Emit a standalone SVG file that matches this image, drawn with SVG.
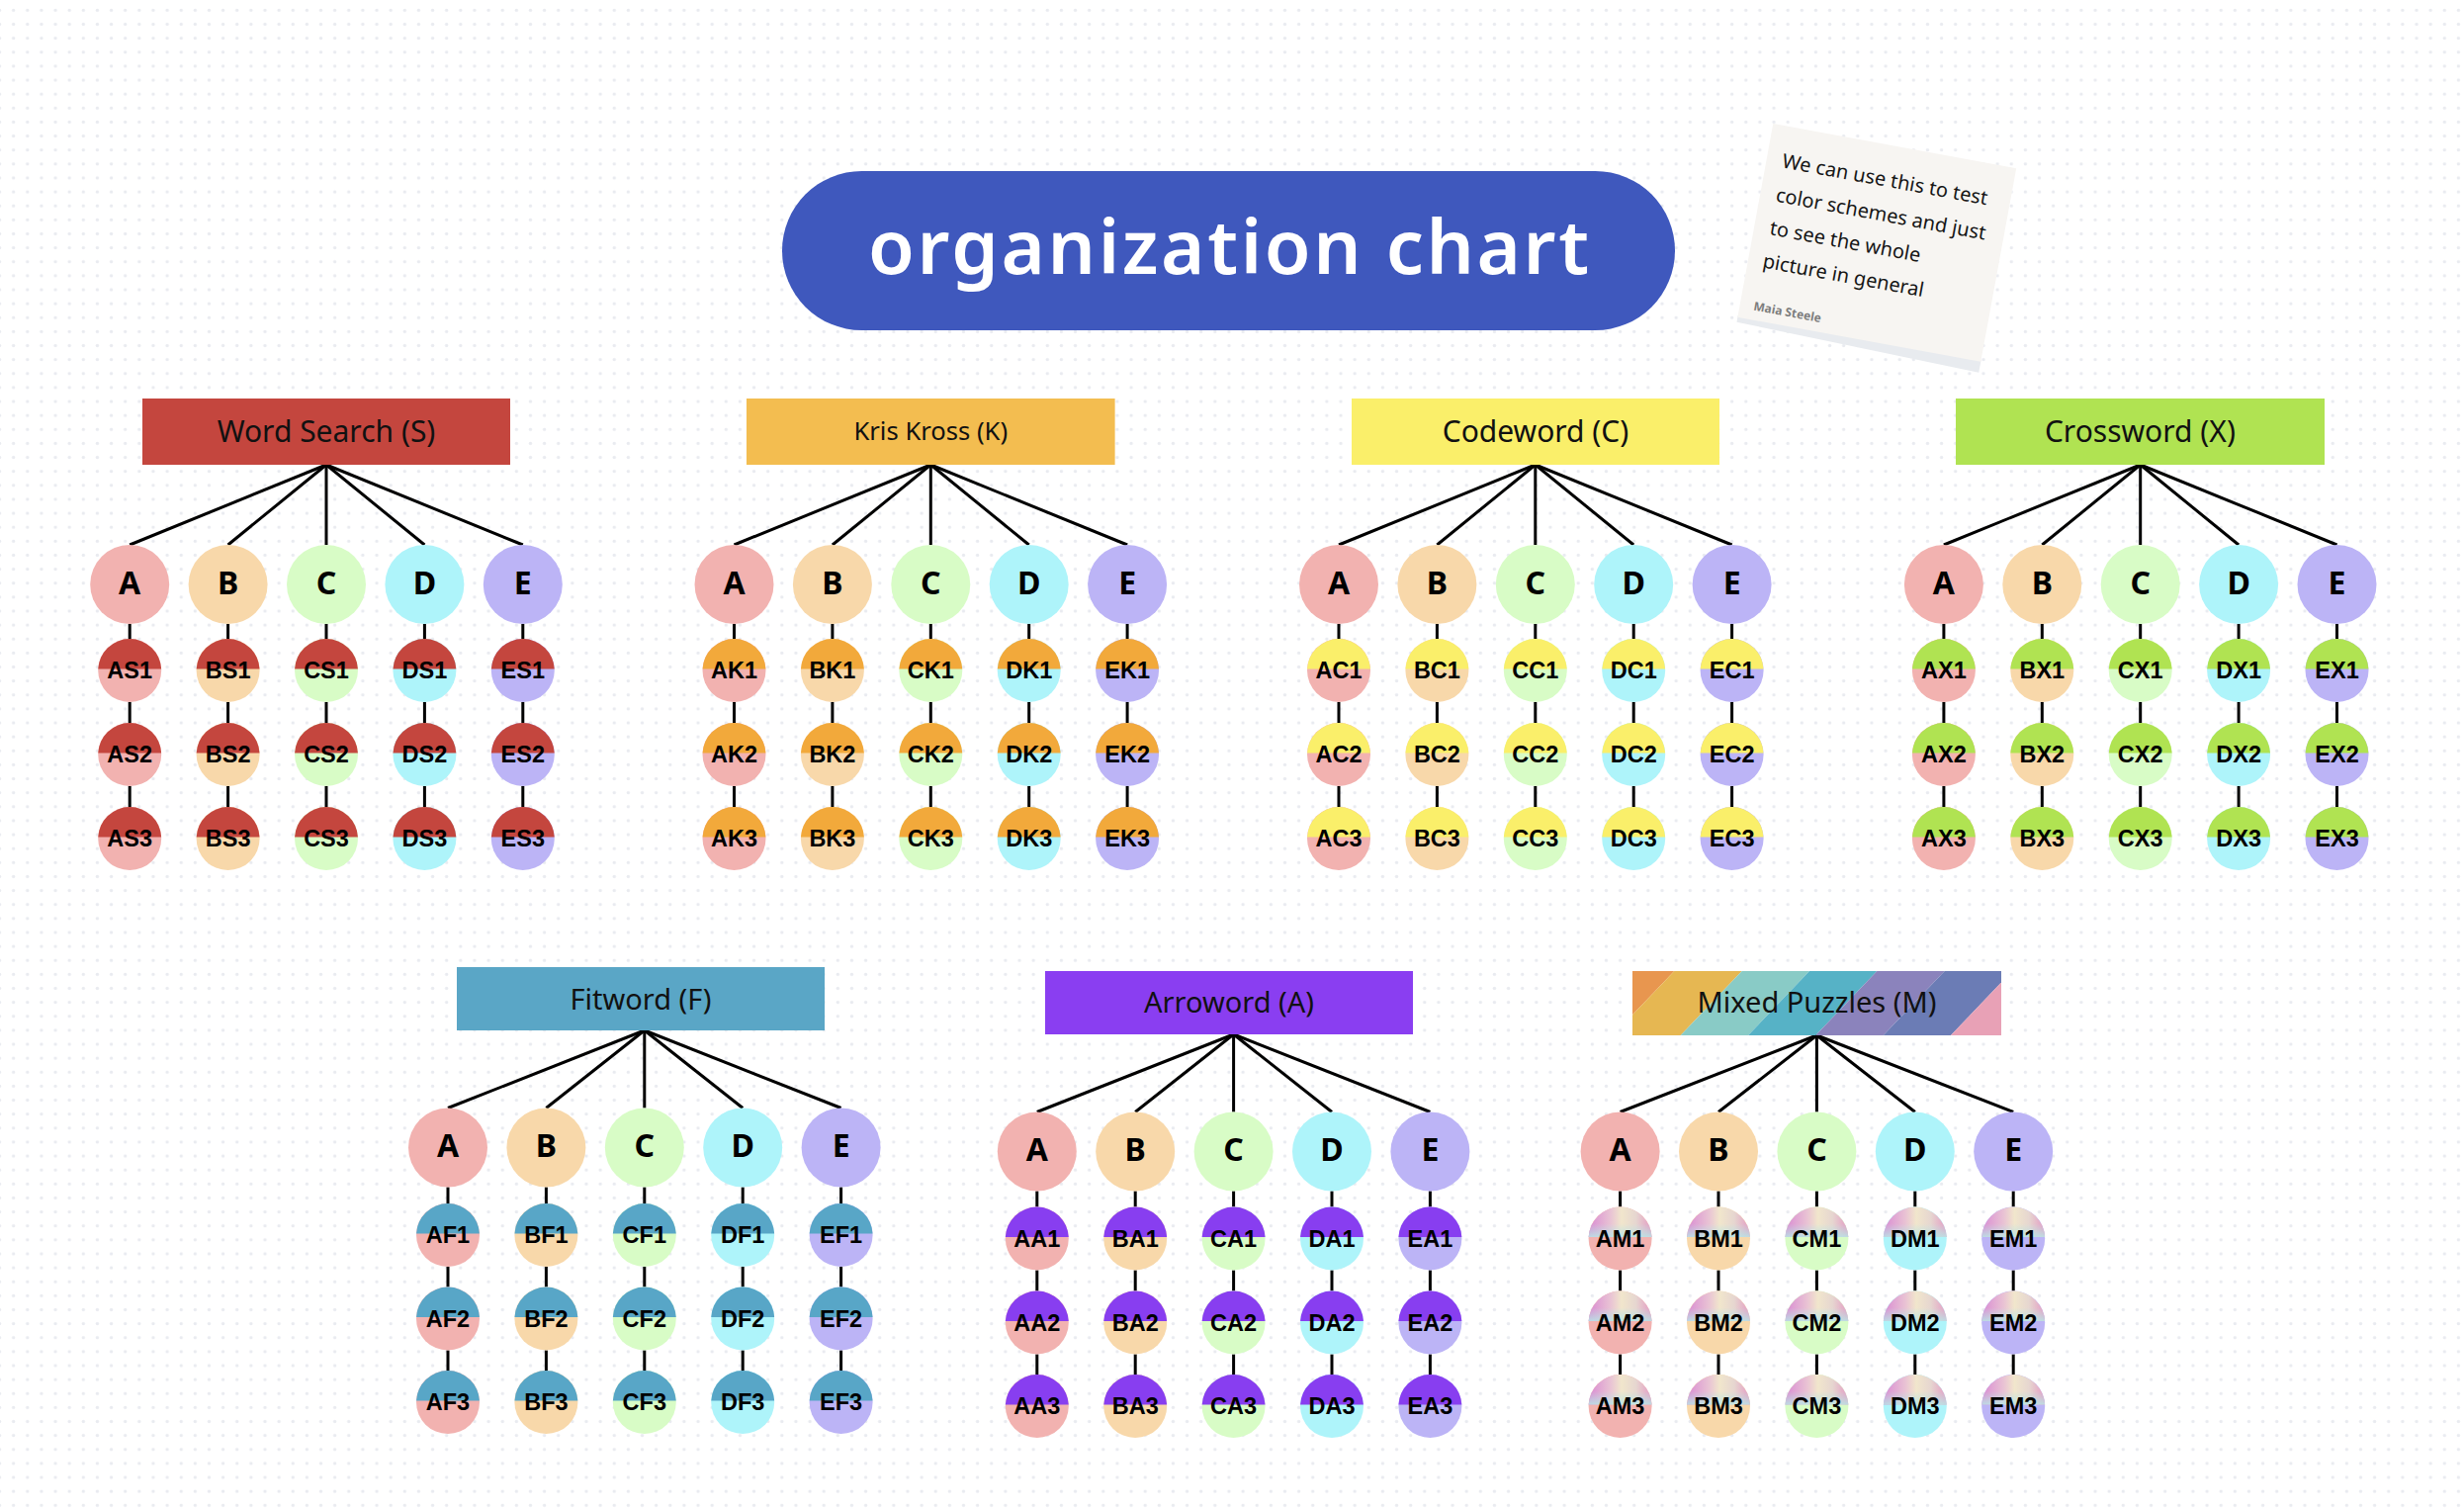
<svg xmlns="http://www.w3.org/2000/svg" xmlns:xlink="http://www.w3.org/1999/xlink" width="2492" height="1526" viewBox="0 0 2492 1526">
<defs>
<pattern id="dots" x="6.6" y="3.33" width="14.13" height="14.13" patternUnits="userSpaceOnUse"><circle cx="7.065" cy="7.065" r="1.7" fill="#e9ebf0"/></pattern>
<path id="top" d="M-31.96,-1.5 A32,32 0 0 1 31.96,-1.5 Z"/>
<linearGradient id="mixH" x1="0" y1="0" x2="1" y2="0"><stop offset="0" stop-color="#d98bd3"/><stop offset="0.35" stop-color="#e9c3d4"/><stop offset="0.52" stop-color="#f1e6cc"/><stop offset="0.75" stop-color="#e6d6d0"/><stop offset="1" stop-color="#e49ac4"/></linearGradient>
<linearGradient id="mixV" x1="0" y1="0" x2="0" y2="1"><stop offset="0" stop-color="#b8e6e6" stop-opacity="0"/><stop offset="0.55" stop-color="#b8e6e6" stop-opacity="0"/><stop offset="1" stop-color="#b8e6e6" stop-opacity="0.85"/></linearGradient>
<clipPath id="mixClip"><rect x="1651" y="982" width="373" height="65"/></clipPath>
<style>
.bx text{font-family:"Noto Sans","Liberation Sans",sans-serif;font-size:30px;fill:#111;text-anchor:middle}
.big text{font-family:"Noto Sans","DejaVu Sans",sans-serif;font-weight:700;font-size:32px;fill:#000;text-anchor:middle}
.sm text{font-family:"Liberation Sans","Arial",sans-serif;font-weight:700;font-size:23.5px;fill:#000;text-anchor:middle}
.ln{stroke:#000;stroke-width:3;fill:none;stroke-linecap:butt}
.cA{fill:#f2b2b0}.cB{fill:#f8d8aa}.cC{fill:#d8fcc6}.cD{fill:#aef4fa}.cE{fill:#bcb4f6}
.tS{fill:#c4463e}.tK{fill:#f2a93b}.tC{fill:#faef6a}.tX{fill:#b0e352}.tF{fill:#58a6c7}.tA{fill:#883ef0}.tM{fill:url(#mixH)}.tM2{fill:url(#mixV)}
.note text{font-family:"Noto Sans","Open Sans",sans-serif;font-size:20px;fill:#161616}
.note .sig{font-size:12px;font-weight:700;fill:#7d7d7d}
</style>
</defs>
<rect width="2492" height="1526" fill="#ffffff"/>
<rect width="2492" height="1526" fill="url(#dots)"/>

<g id="title">
<rect x="791" y="173" width="903" height="161" rx="80.5" fill="#3f58bd"/>
<text x="878" y="277" font-family="'Noto Sans','Open Sans',sans-serif" font-weight="600" font-size="76" fill="#ffffff" textLength="729" lengthAdjust="spacing">organization chart</text>
</g>

<g id="note" class="note" transform="translate(1793.3,125) rotate(10.4)">
<polygon points="0,197 250,197 250,210 0,204" fill="#e8ebef"/>
<rect width="250" height="199" fill="#f7f5f2"/>
<text x="16" y="42">We can use this to test</text>
<text x="16" y="77">color schemes and just</text>
<text x="16" y="111">to see the whole</text>
<text x="15" y="145">picture in general</text>
<text class="sig" x="14" y="189">Maia Steele</text>
</g>

<g id="connectors">
<g id="conn-S">
<line class="ln" x1="330" y1="470" x2="131.2" y2="551"/><line class="ln" x1="330" y1="470" x2="230.6" y2="551"/><line class="ln" x1="330" y1="470" x2="330" y2="551"/><line class="ln" x1="330" y1="470" x2="429.4" y2="551"/><line class="ln" x1="330" y1="470" x2="528.8" y2="551"/>
<line class="ln" x1="131.2" y1="631" x2="131.2" y2="646"/><line class="ln" x1="131.2" y1="710" x2="131.2" y2="731"/><line class="ln" x1="131.2" y1="795" x2="131.2" y2="816"/>
<line class="ln" x1="230.6" y1="631" x2="230.6" y2="646"/><line class="ln" x1="230.6" y1="710" x2="230.6" y2="731"/><line class="ln" x1="230.6" y1="795" x2="230.6" y2="816"/>
<line class="ln" x1="330" y1="631" x2="330" y2="646"/><line class="ln" x1="330" y1="710" x2="330" y2="731"/><line class="ln" x1="330" y1="795" x2="330" y2="816"/>
<line class="ln" x1="429.4" y1="631" x2="429.4" y2="646"/><line class="ln" x1="429.4" y1="710" x2="429.4" y2="731"/><line class="ln" x1="429.4" y1="795" x2="429.4" y2="816"/>
<line class="ln" x1="528.8" y1="631" x2="528.8" y2="646"/><line class="ln" x1="528.8" y1="710" x2="528.8" y2="731"/><line class="ln" x1="528.8" y1="795" x2="528.8" y2="816"/>
</g>
<g id="conn-K">
<line class="ln" x1="941.3" y1="470" x2="742.5" y2="551"/><line class="ln" x1="941.3" y1="470" x2="841.9" y2="551"/><line class="ln" x1="941.3" y1="470" x2="941.3" y2="551"/><line class="ln" x1="941.3" y1="470" x2="1040.7" y2="551"/><line class="ln" x1="941.3" y1="470" x2="1140.1" y2="551"/>
<line class="ln" x1="742.5" y1="631" x2="742.5" y2="646"/><line class="ln" x1="742.5" y1="710" x2="742.5" y2="731"/><line class="ln" x1="742.5" y1="795" x2="742.5" y2="816"/>
<line class="ln" x1="841.9" y1="631" x2="841.9" y2="646"/><line class="ln" x1="841.9" y1="710" x2="841.9" y2="731"/><line class="ln" x1="841.9" y1="795" x2="841.9" y2="816"/>
<line class="ln" x1="941.3" y1="631" x2="941.3" y2="646"/><line class="ln" x1="941.3" y1="710" x2="941.3" y2="731"/><line class="ln" x1="941.3" y1="795" x2="941.3" y2="816"/>
<line class="ln" x1="1040.7" y1="631" x2="1040.7" y2="646"/><line class="ln" x1="1040.7" y1="710" x2="1040.7" y2="731"/><line class="ln" x1="1040.7" y1="795" x2="1040.7" y2="816"/>
<line class="ln" x1="1140.1" y1="631" x2="1140.1" y2="646"/><line class="ln" x1="1140.1" y1="710" x2="1140.1" y2="731"/><line class="ln" x1="1140.1" y1="795" x2="1140.1" y2="816"/>
</g>
<g id="conn-C">
<line class="ln" x1="1552.8" y1="470" x2="1354" y2="551"/><line class="ln" x1="1552.8" y1="470" x2="1453.4" y2="551"/><line class="ln" x1="1552.8" y1="470" x2="1552.8" y2="551"/><line class="ln" x1="1552.8" y1="470" x2="1652.2" y2="551"/><line class="ln" x1="1552.8" y1="470" x2="1751.6" y2="551"/>
<line class="ln" x1="1354" y1="631" x2="1354" y2="646"/><line class="ln" x1="1354" y1="710" x2="1354" y2="731"/><line class="ln" x1="1354" y1="795" x2="1354" y2="816"/>
<line class="ln" x1="1453.4" y1="631" x2="1453.4" y2="646"/><line class="ln" x1="1453.4" y1="710" x2="1453.4" y2="731"/><line class="ln" x1="1453.4" y1="795" x2="1453.4" y2="816"/>
<line class="ln" x1="1552.8" y1="631" x2="1552.8" y2="646"/><line class="ln" x1="1552.8" y1="710" x2="1552.8" y2="731"/><line class="ln" x1="1552.8" y1="795" x2="1552.8" y2="816"/>
<line class="ln" x1="1652.2" y1="631" x2="1652.2" y2="646"/><line class="ln" x1="1652.2" y1="710" x2="1652.2" y2="731"/><line class="ln" x1="1652.2" y1="795" x2="1652.2" y2="816"/>
<line class="ln" x1="1751.6" y1="631" x2="1751.6" y2="646"/><line class="ln" x1="1751.6" y1="710" x2="1751.6" y2="731"/><line class="ln" x1="1751.6" y1="795" x2="1751.6" y2="816"/>
</g>
<g id="conn-X">
<line class="ln" x1="2164.7" y1="470" x2="1965.9" y2="551"/><line class="ln" x1="2164.7" y1="470" x2="2065.3" y2="551"/><line class="ln" x1="2164.7" y1="470" x2="2164.7" y2="551"/><line class="ln" x1="2164.7" y1="470" x2="2264.1" y2="551"/><line class="ln" x1="2164.7" y1="470" x2="2363.5" y2="551"/>
<line class="ln" x1="1965.9" y1="631" x2="1965.9" y2="646"/><line class="ln" x1="1965.9" y1="710" x2="1965.9" y2="731"/><line class="ln" x1="1965.9" y1="795" x2="1965.9" y2="816"/>
<line class="ln" x1="2065.3" y1="631" x2="2065.3" y2="646"/><line class="ln" x1="2065.3" y1="710" x2="2065.3" y2="731"/><line class="ln" x1="2065.3" y1="795" x2="2065.3" y2="816"/>
<line class="ln" x1="2164.7" y1="631" x2="2164.7" y2="646"/><line class="ln" x1="2164.7" y1="710" x2="2164.7" y2="731"/><line class="ln" x1="2164.7" y1="795" x2="2164.7" y2="816"/>
<line class="ln" x1="2264.1" y1="631" x2="2264.1" y2="646"/><line class="ln" x1="2264.1" y1="710" x2="2264.1" y2="731"/><line class="ln" x1="2264.1" y1="795" x2="2264.1" y2="816"/>
<line class="ln" x1="2363.5" y1="631" x2="2363.5" y2="646"/><line class="ln" x1="2363.5" y1="710" x2="2363.5" y2="731"/><line class="ln" x1="2363.5" y1="795" x2="2363.5" y2="816"/>
</g>
<g id="conn-F">
<line class="ln" x1="651.8" y1="1042" x2="453" y2="1120.5"/><line class="ln" x1="651.8" y1="1042" x2="552.4" y2="1120.5"/><line class="ln" x1="651.8" y1="1042" x2="651.8" y2="1120.5"/><line class="ln" x1="651.8" y1="1042" x2="751.2" y2="1120.5"/><line class="ln" x1="651.8" y1="1042" x2="850.6" y2="1120.5"/>
<line class="ln" x1="453" y1="1200.5" x2="453" y2="1217"/><line class="ln" x1="453" y1="1281" x2="453" y2="1301.5"/><line class="ln" x1="453" y1="1365.5" x2="453" y2="1386"/>
<line class="ln" x1="552.4" y1="1200.5" x2="552.4" y2="1217"/><line class="ln" x1="552.4" y1="1281" x2="552.4" y2="1301.5"/><line class="ln" x1="552.4" y1="1365.5" x2="552.4" y2="1386"/>
<line class="ln" x1="651.8" y1="1200.5" x2="651.8" y2="1217"/><line class="ln" x1="651.8" y1="1281" x2="651.8" y2="1301.5"/><line class="ln" x1="651.8" y1="1365.5" x2="651.8" y2="1386"/>
<line class="ln" x1="751.2" y1="1200.5" x2="751.2" y2="1217"/><line class="ln" x1="751.2" y1="1281" x2="751.2" y2="1301.5"/><line class="ln" x1="751.2" y1="1365.5" x2="751.2" y2="1386"/>
<line class="ln" x1="850.6" y1="1200.5" x2="850.6" y2="1217"/><line class="ln" x1="850.6" y1="1281" x2="850.6" y2="1301.5"/><line class="ln" x1="850.6" y1="1365.5" x2="850.6" y2="1386"/>
</g>
<g id="conn-A">
<line class="ln" x1="1247.6" y1="1046" x2="1048.8" y2="1124.5"/><line class="ln" x1="1247.6" y1="1046" x2="1148.2" y2="1124.5"/><line class="ln" x1="1247.6" y1="1046" x2="1247.6" y2="1124.5"/><line class="ln" x1="1247.6" y1="1046" x2="1347" y2="1124.5"/><line class="ln" x1="1247.6" y1="1046" x2="1446.4" y2="1124.5"/>
<line class="ln" x1="1048.8" y1="1204.5" x2="1048.8" y2="1220.5"/><line class="ln" x1="1048.8" y1="1284.5" x2="1048.8" y2="1305.5"/><line class="ln" x1="1048.8" y1="1369.5" x2="1048.8" y2="1390"/>
<line class="ln" x1="1148.2" y1="1204.5" x2="1148.2" y2="1220.5"/><line class="ln" x1="1148.2" y1="1284.5" x2="1148.2" y2="1305.5"/><line class="ln" x1="1148.2" y1="1369.5" x2="1148.2" y2="1390"/>
<line class="ln" x1="1247.6" y1="1204.5" x2="1247.6" y2="1220.5"/><line class="ln" x1="1247.6" y1="1284.5" x2="1247.6" y2="1305.5"/><line class="ln" x1="1247.6" y1="1369.5" x2="1247.6" y2="1390"/>
<line class="ln" x1="1347" y1="1204.5" x2="1347" y2="1220.5"/><line class="ln" x1="1347" y1="1284.5" x2="1347" y2="1305.5"/><line class="ln" x1="1347" y1="1369.5" x2="1347" y2="1390"/>
<line class="ln" x1="1446.4" y1="1204.5" x2="1446.4" y2="1220.5"/><line class="ln" x1="1446.4" y1="1284.5" x2="1446.4" y2="1305.5"/><line class="ln" x1="1446.4" y1="1369.5" x2="1446.4" y2="1390"/>
</g>
<g id="conn-M">
<line class="ln" x1="1837.4" y1="1047" x2="1638.6" y2="1124.5"/><line class="ln" x1="1837.4" y1="1047" x2="1738" y2="1124.5"/><line class="ln" x1="1837.4" y1="1047" x2="1837.4" y2="1124.5"/><line class="ln" x1="1837.4" y1="1047" x2="1936.8" y2="1124.5"/><line class="ln" x1="1837.4" y1="1047" x2="2036.2" y2="1124.5"/>
<line class="ln" x1="1638.6" y1="1204.5" x2="1638.6" y2="1220.5"/><line class="ln" x1="1638.6" y1="1284.5" x2="1638.6" y2="1305.5"/><line class="ln" x1="1638.6" y1="1369.5" x2="1638.6" y2="1390"/>
<line class="ln" x1="1738" y1="1204.5" x2="1738" y2="1220.5"/><line class="ln" x1="1738" y1="1284.5" x2="1738" y2="1305.5"/><line class="ln" x1="1738" y1="1369.5" x2="1738" y2="1390"/>
<line class="ln" x1="1837.4" y1="1204.5" x2="1837.4" y2="1220.5"/><line class="ln" x1="1837.4" y1="1284.5" x2="1837.4" y2="1305.5"/><line class="ln" x1="1837.4" y1="1369.5" x2="1837.4" y2="1390"/>
<line class="ln" x1="1936.8" y1="1204.5" x2="1936.8" y2="1220.5"/><line class="ln" x1="1936.8" y1="1284.5" x2="1936.8" y2="1305.5"/><line class="ln" x1="1936.8" y1="1369.5" x2="1936.8" y2="1390"/>
<line class="ln" x1="2036.2" y1="1204.5" x2="2036.2" y2="1220.5"/><line class="ln" x1="2036.2" y1="1284.5" x2="2036.2" y2="1305.5"/><line class="ln" x1="2036.2" y1="1369.5" x2="2036.2" y2="1390"/>
</g>
</g>

<g id="boxes">
<g id="box-S" class="bx"><rect x="144" y="403" width="372" height="67" fill="#c4463e"/><text x="330" y="446.5">Word Search (S)</text></g>
<g id="box-K" class="bx"><rect x="755" y="403" width="372.6" height="67" fill="#f3bd50"/><text x="941.3" y="445" style="font-size:25.6px">Kris Kross (K)</text></g>
<g id="box-C" class="bx"><rect x="1367" y="403" width="372" height="67" fill="#faef6a"/><text x="1553" y="446.5">Codeword (C)</text></g>
<g id="box-X" class="bx"><rect x="1978" y="403" width="373" height="67" fill="#b0e352"/><text x="2164.4" y="446.5">Crossword (X)</text></g>
<g id="box-F" class="bx"><rect x="462" y="978" width="372" height="64" fill="#5aa6c6"/><text x="648" y="1020.5" style="font-size:29px">Fitword (F)</text></g>
<g id="box-A" class="bx"><rect x="1057" y="982" width="372" height="64" fill="#8a3ef1"/><text x="1243" y="1024" style="font-size:29px">Arroword (A)</text></g>
<g id="box-M" class="bx">
<g clip-path="url(#mixClip)">
<polygon points="1600,982 1693.3,982 1631.3,1047 1538,1047" fill="#e8964f"/>
<polygon points="1693.3,982 1761.7,982 1699.7,1047 1631.3,1047" fill="#e6b752"/>
<polygon points="1761.7,982 1830,982 1768,1047 1699.7,1047" fill="#89cbc6"/>
<polygon points="1830,982 1898.3,982 1836.3,1047 1768,1047" fill="#56b2c6"/>
<polygon points="1898.3,982 1966.7,982 1904.7,1047 1836.3,1047" fill="#8b83bc"/>
<polygon points="1966.7,982 2035,982 1973,1047 1904.7,1047" fill="#6b7cb5"/>
<polygon points="2035,982 2150,982 2088,1047 1973,1047" fill="#e8a1b6"/>
</g>
<text x="1837.5" y="1024" style="font-size:29px">Mixed Puzzles (M)</text>
</g>
</g>

<g id="tree-S">
<g id="S-A" class="big" transform="translate(131.2,591)"><circle r="40" class="cA"/><text y="9.5">A</text></g>
<g id="S-B" class="big" transform="translate(230.6,591)"><circle r="40" class="cB"/><text y="9.5">B</text></g>
<g id="S-C" class="big" transform="translate(330,591)"><circle r="40" class="cC"/><text y="9.5">C</text></g>
<g id="S-D" class="big" transform="translate(429.4,591)"><circle r="40" class="cD"/><text y="9.5">D</text></g>
<g id="S-E" class="big" transform="translate(528.8,591)"><circle r="40" class="cE"/><text y="9.5">E</text></g>
<g id="AS1" class="sm" transform="translate(131.2,678)"><circle r="32" class="cA"/><use href="#top" class="tS"/><text y="8">AS1</text></g>
<g id="AS2" class="sm" transform="translate(131.2,763)"><circle r="32" class="cA"/><use href="#top" class="tS"/><text y="8">AS2</text></g>
<g id="AS3" class="sm" transform="translate(131.2,848)"><circle r="32" class="cA"/><use href="#top" class="tS"/><text y="8">AS3</text></g>
<g id="BS1" class="sm" transform="translate(230.6,678)"><circle r="32" class="cB"/><use href="#top" class="tS"/><text y="8">BS1</text></g>
<g id="BS2" class="sm" transform="translate(230.6,763)"><circle r="32" class="cB"/><use href="#top" class="tS"/><text y="8">BS2</text></g>
<g id="BS3" class="sm" transform="translate(230.6,848)"><circle r="32" class="cB"/><use href="#top" class="tS"/><text y="8">BS3</text></g>
<g id="CS1" class="sm" transform="translate(330,678)"><circle r="32" class="cC"/><use href="#top" class="tS"/><text y="8">CS1</text></g>
<g id="CS2" class="sm" transform="translate(330,763)"><circle r="32" class="cC"/><use href="#top" class="tS"/><text y="8">CS2</text></g>
<g id="CS3" class="sm" transform="translate(330,848)"><circle r="32" class="cC"/><use href="#top" class="tS"/><text y="8">CS3</text></g>
<g id="DS1" class="sm" transform="translate(429.4,678)"><circle r="32" class="cD"/><use href="#top" class="tS"/><text y="8">DS1</text></g>
<g id="DS2" class="sm" transform="translate(429.4,763)"><circle r="32" class="cD"/><use href="#top" class="tS"/><text y="8">DS2</text></g>
<g id="DS3" class="sm" transform="translate(429.4,848)"><circle r="32" class="cD"/><use href="#top" class="tS"/><text y="8">DS3</text></g>
<g id="ES1" class="sm" transform="translate(528.8,678)"><circle r="32" class="cE"/><use href="#top" class="tS"/><text y="8">ES1</text></g>
<g id="ES2" class="sm" transform="translate(528.8,763)"><circle r="32" class="cE"/><use href="#top" class="tS"/><text y="8">ES2</text></g>
<g id="ES3" class="sm" transform="translate(528.8,848)"><circle r="32" class="cE"/><use href="#top" class="tS"/><text y="8">ES3</text></g>
</g>

<g id="tree-K">
<g id="K-A" class="big" transform="translate(742.5,591)"><circle r="40" class="cA"/><text y="9.5">A</text></g>
<g id="K-B" class="big" transform="translate(841.9,591)"><circle r="40" class="cB"/><text y="9.5">B</text></g>
<g id="K-C" class="big" transform="translate(941.3,591)"><circle r="40" class="cC"/><text y="9.5">C</text></g>
<g id="K-D" class="big" transform="translate(1040.7,591)"><circle r="40" class="cD"/><text y="9.5">D</text></g>
<g id="K-E" class="big" transform="translate(1140.1,591)"><circle r="40" class="cE"/><text y="9.5">E</text></g>
<g id="AK1" class="sm" transform="translate(742.5,678)"><circle r="32" class="cA"/><use href="#top" class="tK"/><text y="8">AK1</text></g>
<g id="AK2" class="sm" transform="translate(742.5,763)"><circle r="32" class="cA"/><use href="#top" class="tK"/><text y="8">AK2</text></g>
<g id="AK3" class="sm" transform="translate(742.5,848)"><circle r="32" class="cA"/><use href="#top" class="tK"/><text y="8">AK3</text></g>
<g id="BK1" class="sm" transform="translate(841.9,678)"><circle r="32" class="cB"/><use href="#top" class="tK"/><text y="8">BK1</text></g>
<g id="BK2" class="sm" transform="translate(841.9,763)"><circle r="32" class="cB"/><use href="#top" class="tK"/><text y="8">BK2</text></g>
<g id="BK3" class="sm" transform="translate(841.9,848)"><circle r="32" class="cB"/><use href="#top" class="tK"/><text y="8">BK3</text></g>
<g id="CK1" class="sm" transform="translate(941.3,678)"><circle r="32" class="cC"/><use href="#top" class="tK"/><text y="8">CK1</text></g>
<g id="CK2" class="sm" transform="translate(941.3,763)"><circle r="32" class="cC"/><use href="#top" class="tK"/><text y="8">CK2</text></g>
<g id="CK3" class="sm" transform="translate(941.3,848)"><circle r="32" class="cC"/><use href="#top" class="tK"/><text y="8">CK3</text></g>
<g id="DK1" class="sm" transform="translate(1040.7,678)"><circle r="32" class="cD"/><use href="#top" class="tK"/><text y="8">DK1</text></g>
<g id="DK2" class="sm" transform="translate(1040.7,763)"><circle r="32" class="cD"/><use href="#top" class="tK"/><text y="8">DK2</text></g>
<g id="DK3" class="sm" transform="translate(1040.7,848)"><circle r="32" class="cD"/><use href="#top" class="tK"/><text y="8">DK3</text></g>
<g id="EK1" class="sm" transform="translate(1140.1,678)"><circle r="32" class="cE"/><use href="#top" class="tK"/><text y="8">EK1</text></g>
<g id="EK2" class="sm" transform="translate(1140.1,763)"><circle r="32" class="cE"/><use href="#top" class="tK"/><text y="8">EK2</text></g>
<g id="EK3" class="sm" transform="translate(1140.1,848)"><circle r="32" class="cE"/><use href="#top" class="tK"/><text y="8">EK3</text></g>
</g>

<g id="tree-C">
<g id="C-A" class="big" transform="translate(1354,591)"><circle r="40" class="cA"/><text y="9.5">A</text></g>
<g id="C-B" class="big" transform="translate(1453.4,591)"><circle r="40" class="cB"/><text y="9.5">B</text></g>
<g id="C-C" class="big" transform="translate(1552.8,591)"><circle r="40" class="cC"/><text y="9.5">C</text></g>
<g id="C-D" class="big" transform="translate(1652.2,591)"><circle r="40" class="cD"/><text y="9.5">D</text></g>
<g id="C-E" class="big" transform="translate(1751.6,591)"><circle r="40" class="cE"/><text y="9.5">E</text></g>
<g id="AC1" class="sm" transform="translate(1354,678)"><circle r="32" class="cA"/><use href="#top" class="tC"/><text y="8">AC1</text></g>
<g id="AC2" class="sm" transform="translate(1354,763)"><circle r="32" class="cA"/><use href="#top" class="tC"/><text y="8">AC2</text></g>
<g id="AC3" class="sm" transform="translate(1354,848)"><circle r="32" class="cA"/><use href="#top" class="tC"/><text y="8">AC3</text></g>
<g id="BC1" class="sm" transform="translate(1453.4,678)"><circle r="32" class="cB"/><use href="#top" class="tC"/><text y="8">BC1</text></g>
<g id="BC2" class="sm" transform="translate(1453.4,763)"><circle r="32" class="cB"/><use href="#top" class="tC"/><text y="8">BC2</text></g>
<g id="BC3" class="sm" transform="translate(1453.4,848)"><circle r="32" class="cB"/><use href="#top" class="tC"/><text y="8">BC3</text></g>
<g id="CC1" class="sm" transform="translate(1552.8,678)"><circle r="32" class="cC"/><use href="#top" class="tC"/><text y="8">CC1</text></g>
<g id="CC2" class="sm" transform="translate(1552.8,763)"><circle r="32" class="cC"/><use href="#top" class="tC"/><text y="8">CC2</text></g>
<g id="CC3" class="sm" transform="translate(1552.8,848)"><circle r="32" class="cC"/><use href="#top" class="tC"/><text y="8">CC3</text></g>
<g id="DC1" class="sm" transform="translate(1652.2,678)"><circle r="32" class="cD"/><use href="#top" class="tC"/><text y="8">DC1</text></g>
<g id="DC2" class="sm" transform="translate(1652.2,763)"><circle r="32" class="cD"/><use href="#top" class="tC"/><text y="8">DC2</text></g>
<g id="DC3" class="sm" transform="translate(1652.2,848)"><circle r="32" class="cD"/><use href="#top" class="tC"/><text y="8">DC3</text></g>
<g id="EC1" class="sm" transform="translate(1751.6,678)"><circle r="32" class="cE"/><use href="#top" class="tC"/><text y="8">EC1</text></g>
<g id="EC2" class="sm" transform="translate(1751.6,763)"><circle r="32" class="cE"/><use href="#top" class="tC"/><text y="8">EC2</text></g>
<g id="EC3" class="sm" transform="translate(1751.6,848)"><circle r="32" class="cE"/><use href="#top" class="tC"/><text y="8">EC3</text></g>
</g>

<g id="tree-X">
<g id="X-A" class="big" transform="translate(1965.9,591)"><circle r="40" class="cA"/><text y="9.5">A</text></g>
<g id="X-B" class="big" transform="translate(2065.3,591)"><circle r="40" class="cB"/><text y="9.5">B</text></g>
<g id="X-C" class="big" transform="translate(2164.7,591)"><circle r="40" class="cC"/><text y="9.5">C</text></g>
<g id="X-D" class="big" transform="translate(2264.1,591)"><circle r="40" class="cD"/><text y="9.5">D</text></g>
<g id="X-E" class="big" transform="translate(2363.5,591)"><circle r="40" class="cE"/><text y="9.5">E</text></g>
<g id="AX1" class="sm" transform="translate(1965.9,678)"><circle r="32" class="cA"/><use href="#top" class="tX"/><text y="8">AX1</text></g>
<g id="AX2" class="sm" transform="translate(1965.9,763)"><circle r="32" class="cA"/><use href="#top" class="tX"/><text y="8">AX2</text></g>
<g id="AX3" class="sm" transform="translate(1965.9,848)"><circle r="32" class="cA"/><use href="#top" class="tX"/><text y="8">AX3</text></g>
<g id="BX1" class="sm" transform="translate(2065.3,678)"><circle r="32" class="cB"/><use href="#top" class="tX"/><text y="8">BX1</text></g>
<g id="BX2" class="sm" transform="translate(2065.3,763)"><circle r="32" class="cB"/><use href="#top" class="tX"/><text y="8">BX2</text></g>
<g id="BX3" class="sm" transform="translate(2065.3,848)"><circle r="32" class="cB"/><use href="#top" class="tX"/><text y="8">BX3</text></g>
<g id="CX1" class="sm" transform="translate(2164.7,678)"><circle r="32" class="cC"/><use href="#top" class="tX"/><text y="8">CX1</text></g>
<g id="CX2" class="sm" transform="translate(2164.7,763)"><circle r="32" class="cC"/><use href="#top" class="tX"/><text y="8">CX2</text></g>
<g id="CX3" class="sm" transform="translate(2164.7,848)"><circle r="32" class="cC"/><use href="#top" class="tX"/><text y="8">CX3</text></g>
<g id="DX1" class="sm" transform="translate(2264.1,678)"><circle r="32" class="cD"/><use href="#top" class="tX"/><text y="8">DX1</text></g>
<g id="DX2" class="sm" transform="translate(2264.1,763)"><circle r="32" class="cD"/><use href="#top" class="tX"/><text y="8">DX2</text></g>
<g id="DX3" class="sm" transform="translate(2264.1,848)"><circle r="32" class="cD"/><use href="#top" class="tX"/><text y="8">DX3</text></g>
<g id="EX1" class="sm" transform="translate(2363.5,678)"><circle r="32" class="cE"/><use href="#top" class="tX"/><text y="8">EX1</text></g>
<g id="EX2" class="sm" transform="translate(2363.5,763)"><circle r="32" class="cE"/><use href="#top" class="tX"/><text y="8">EX2</text></g>
<g id="EX3" class="sm" transform="translate(2363.5,848)"><circle r="32" class="cE"/><use href="#top" class="tX"/><text y="8">EX3</text></g>
</g>

<g id="tree-F">
<g id="F-A" class="big" transform="translate(453,1160.5)"><circle r="40" class="cA"/><text y="9.5">A</text></g>
<g id="F-B" class="big" transform="translate(552.4,1160.5)"><circle r="40" class="cB"/><text y="9.5">B</text></g>
<g id="F-C" class="big" transform="translate(651.8,1160.5)"><circle r="40" class="cC"/><text y="9.5">C</text></g>
<g id="F-D" class="big" transform="translate(751.2,1160.5)"><circle r="40" class="cD"/><text y="9.5">D</text></g>
<g id="F-E" class="big" transform="translate(850.6,1160.5)"><circle r="40" class="cE"/><text y="9.5">E</text></g>
<g id="AF1" class="sm" transform="translate(453,1249)"><circle r="32" class="cA"/><use href="#top" class="tF"/><text y="8">AF1</text></g>
<g id="AF2" class="sm" transform="translate(453,1333.5)"><circle r="32" class="cA"/><use href="#top" class="tF"/><text y="8">AF2</text></g>
<g id="AF3" class="sm" transform="translate(453,1418)"><circle r="32" class="cA"/><use href="#top" class="tF"/><text y="8">AF3</text></g>
<g id="BF1" class="sm" transform="translate(552.4,1249)"><circle r="32" class="cB"/><use href="#top" class="tF"/><text y="8">BF1</text></g>
<g id="BF2" class="sm" transform="translate(552.4,1333.5)"><circle r="32" class="cB"/><use href="#top" class="tF"/><text y="8">BF2</text></g>
<g id="BF3" class="sm" transform="translate(552.4,1418)"><circle r="32" class="cB"/><use href="#top" class="tF"/><text y="8">BF3</text></g>
<g id="CF1" class="sm" transform="translate(651.8,1249)"><circle r="32" class="cC"/><use href="#top" class="tF"/><text y="8">CF1</text></g>
<g id="CF2" class="sm" transform="translate(651.8,1333.5)"><circle r="32" class="cC"/><use href="#top" class="tF"/><text y="8">CF2</text></g>
<g id="CF3" class="sm" transform="translate(651.8,1418)"><circle r="32" class="cC"/><use href="#top" class="tF"/><text y="8">CF3</text></g>
<g id="DF1" class="sm" transform="translate(751.2,1249)"><circle r="32" class="cD"/><use href="#top" class="tF"/><text y="8">DF1</text></g>
<g id="DF2" class="sm" transform="translate(751.2,1333.5)"><circle r="32" class="cD"/><use href="#top" class="tF"/><text y="8">DF2</text></g>
<g id="DF3" class="sm" transform="translate(751.2,1418)"><circle r="32" class="cD"/><use href="#top" class="tF"/><text y="8">DF3</text></g>
<g id="EF1" class="sm" transform="translate(850.6,1249)"><circle r="32" class="cE"/><use href="#top" class="tF"/><text y="8">EF1</text></g>
<g id="EF2" class="sm" transform="translate(850.6,1333.5)"><circle r="32" class="cE"/><use href="#top" class="tF"/><text y="8">EF2</text></g>
<g id="EF3" class="sm" transform="translate(850.6,1418)"><circle r="32" class="cE"/><use href="#top" class="tF"/><text y="8">EF3</text></g>
</g>

<g id="tree-A">
<g id="A-A" class="big" transform="translate(1048.8,1164.5)"><circle r="40" class="cA"/><text y="9.5">A</text></g>
<g id="A-B" class="big" transform="translate(1148.2,1164.5)"><circle r="40" class="cB"/><text y="9.5">B</text></g>
<g id="A-C" class="big" transform="translate(1247.6,1164.5)"><circle r="40" class="cC"/><text y="9.5">C</text></g>
<g id="A-D" class="big" transform="translate(1347,1164.5)"><circle r="40" class="cD"/><text y="9.5">D</text></g>
<g id="A-E" class="big" transform="translate(1446.4,1164.5)"><circle r="40" class="cE"/><text y="9.5">E</text></g>
<g id="AA1" class="sm" transform="translate(1048.8,1252.5)"><circle r="32" class="cA"/><use href="#top" class="tA"/><text y="8">AA1</text></g>
<g id="AA2" class="sm" transform="translate(1048.8,1337.5)"><circle r="32" class="cA"/><use href="#top" class="tA"/><text y="8">AA2</text></g>
<g id="AA3" class="sm" transform="translate(1048.8,1422)"><circle r="32" class="cA"/><use href="#top" class="tA"/><text y="8">AA3</text></g>
<g id="BA1" class="sm" transform="translate(1148.2,1252.5)"><circle r="32" class="cB"/><use href="#top" class="tA"/><text y="8">BA1</text></g>
<g id="BA2" class="sm" transform="translate(1148.2,1337.5)"><circle r="32" class="cB"/><use href="#top" class="tA"/><text y="8">BA2</text></g>
<g id="BA3" class="sm" transform="translate(1148.2,1422)"><circle r="32" class="cB"/><use href="#top" class="tA"/><text y="8">BA3</text></g>
<g id="CA1" class="sm" transform="translate(1247.6,1252.5)"><circle r="32" class="cC"/><use href="#top" class="tA"/><text y="8">CA1</text></g>
<g id="CA2" class="sm" transform="translate(1247.6,1337.5)"><circle r="32" class="cC"/><use href="#top" class="tA"/><text y="8">CA2</text></g>
<g id="CA3" class="sm" transform="translate(1247.6,1422)"><circle r="32" class="cC"/><use href="#top" class="tA"/><text y="8">CA3</text></g>
<g id="DA1" class="sm" transform="translate(1347,1252.5)"><circle r="32" class="cD"/><use href="#top" class="tA"/><text y="8">DA1</text></g>
<g id="DA2" class="sm" transform="translate(1347,1337.5)"><circle r="32" class="cD"/><use href="#top" class="tA"/><text y="8">DA2</text></g>
<g id="DA3" class="sm" transform="translate(1347,1422)"><circle r="32" class="cD"/><use href="#top" class="tA"/><text y="8">DA3</text></g>
<g id="EA1" class="sm" transform="translate(1446.4,1252.5)"><circle r="32" class="cE"/><use href="#top" class="tA"/><text y="8">EA1</text></g>
<g id="EA2" class="sm" transform="translate(1446.4,1337.5)"><circle r="32" class="cE"/><use href="#top" class="tA"/><text y="8">EA2</text></g>
<g id="EA3" class="sm" transform="translate(1446.4,1422)"><circle r="32" class="cE"/><use href="#top" class="tA"/><text y="8">EA3</text></g>
</g>

<g id="tree-M">
<g id="M-A" class="big" transform="translate(1638.6,1164.5)"><circle r="40" class="cA"/><text y="9.5">A</text></g>
<g id="M-B" class="big" transform="translate(1738,1164.5)"><circle r="40" class="cB"/><text y="9.5">B</text></g>
<g id="M-C" class="big" transform="translate(1837.4,1164.5)"><circle r="40" class="cC"/><text y="9.5">C</text></g>
<g id="M-D" class="big" transform="translate(1936.8,1164.5)"><circle r="40" class="cD"/><text y="9.5">D</text></g>
<g id="M-E" class="big" transform="translate(2036.2,1164.5)"><circle r="40" class="cE"/><text y="9.5">E</text></g>
<g id="AM1" class="sm" transform="translate(1638.6,1252.5)"><circle r="32" class="cA"/><use href="#top" class="tM"/><use href="#top" class="tM2"/><text y="8">AM1</text></g>
<g id="AM2" class="sm" transform="translate(1638.6,1337.5)"><circle r="32" class="cA"/><use href="#top" class="tM"/><use href="#top" class="tM2"/><text y="8">AM2</text></g>
<g id="AM3" class="sm" transform="translate(1638.6,1422)"><circle r="32" class="cA"/><use href="#top" class="tM"/><use href="#top" class="tM2"/><text y="8">AM3</text></g>
<g id="BM1" class="sm" transform="translate(1738,1252.5)"><circle r="32" class="cB"/><use href="#top" class="tM"/><use href="#top" class="tM2"/><text y="8">BM1</text></g>
<g id="BM2" class="sm" transform="translate(1738,1337.5)"><circle r="32" class="cB"/><use href="#top" class="tM"/><use href="#top" class="tM2"/><text y="8">BM2</text></g>
<g id="BM3" class="sm" transform="translate(1738,1422)"><circle r="32" class="cB"/><use href="#top" class="tM"/><use href="#top" class="tM2"/><text y="8">BM3</text></g>
<g id="CM1" class="sm" transform="translate(1837.4,1252.5)"><circle r="32" class="cC"/><use href="#top" class="tM"/><use href="#top" class="tM2"/><text y="8">CM1</text></g>
<g id="CM2" class="sm" transform="translate(1837.4,1337.5)"><circle r="32" class="cC"/><use href="#top" class="tM"/><use href="#top" class="tM2"/><text y="8">CM2</text></g>
<g id="CM3" class="sm" transform="translate(1837.4,1422)"><circle r="32" class="cC"/><use href="#top" class="tM"/><use href="#top" class="tM2"/><text y="8">CM3</text></g>
<g id="DM1" class="sm" transform="translate(1936.8,1252.5)"><circle r="32" class="cD"/><use href="#top" class="tM"/><use href="#top" class="tM2"/><text y="8">DM1</text></g>
<g id="DM2" class="sm" transform="translate(1936.8,1337.5)"><circle r="32" class="cD"/><use href="#top" class="tM"/><use href="#top" class="tM2"/><text y="8">DM2</text></g>
<g id="DM3" class="sm" transform="translate(1936.8,1422)"><circle r="32" class="cD"/><use href="#top" class="tM"/><use href="#top" class="tM2"/><text y="8">DM3</text></g>
<g id="EM1" class="sm" transform="translate(2036.2,1252.5)"><circle r="32" class="cE"/><use href="#top" class="tM"/><use href="#top" class="tM2"/><text y="8">EM1</text></g>
<g id="EM2" class="sm" transform="translate(2036.2,1337.5)"><circle r="32" class="cE"/><use href="#top" class="tM"/><use href="#top" class="tM2"/><text y="8">EM2</text></g>
<g id="EM3" class="sm" transform="translate(2036.2,1422)"><circle r="32" class="cE"/><use href="#top" class="tM"/><use href="#top" class="tM2"/><text y="8">EM3</text></g>
</g>
</svg>
